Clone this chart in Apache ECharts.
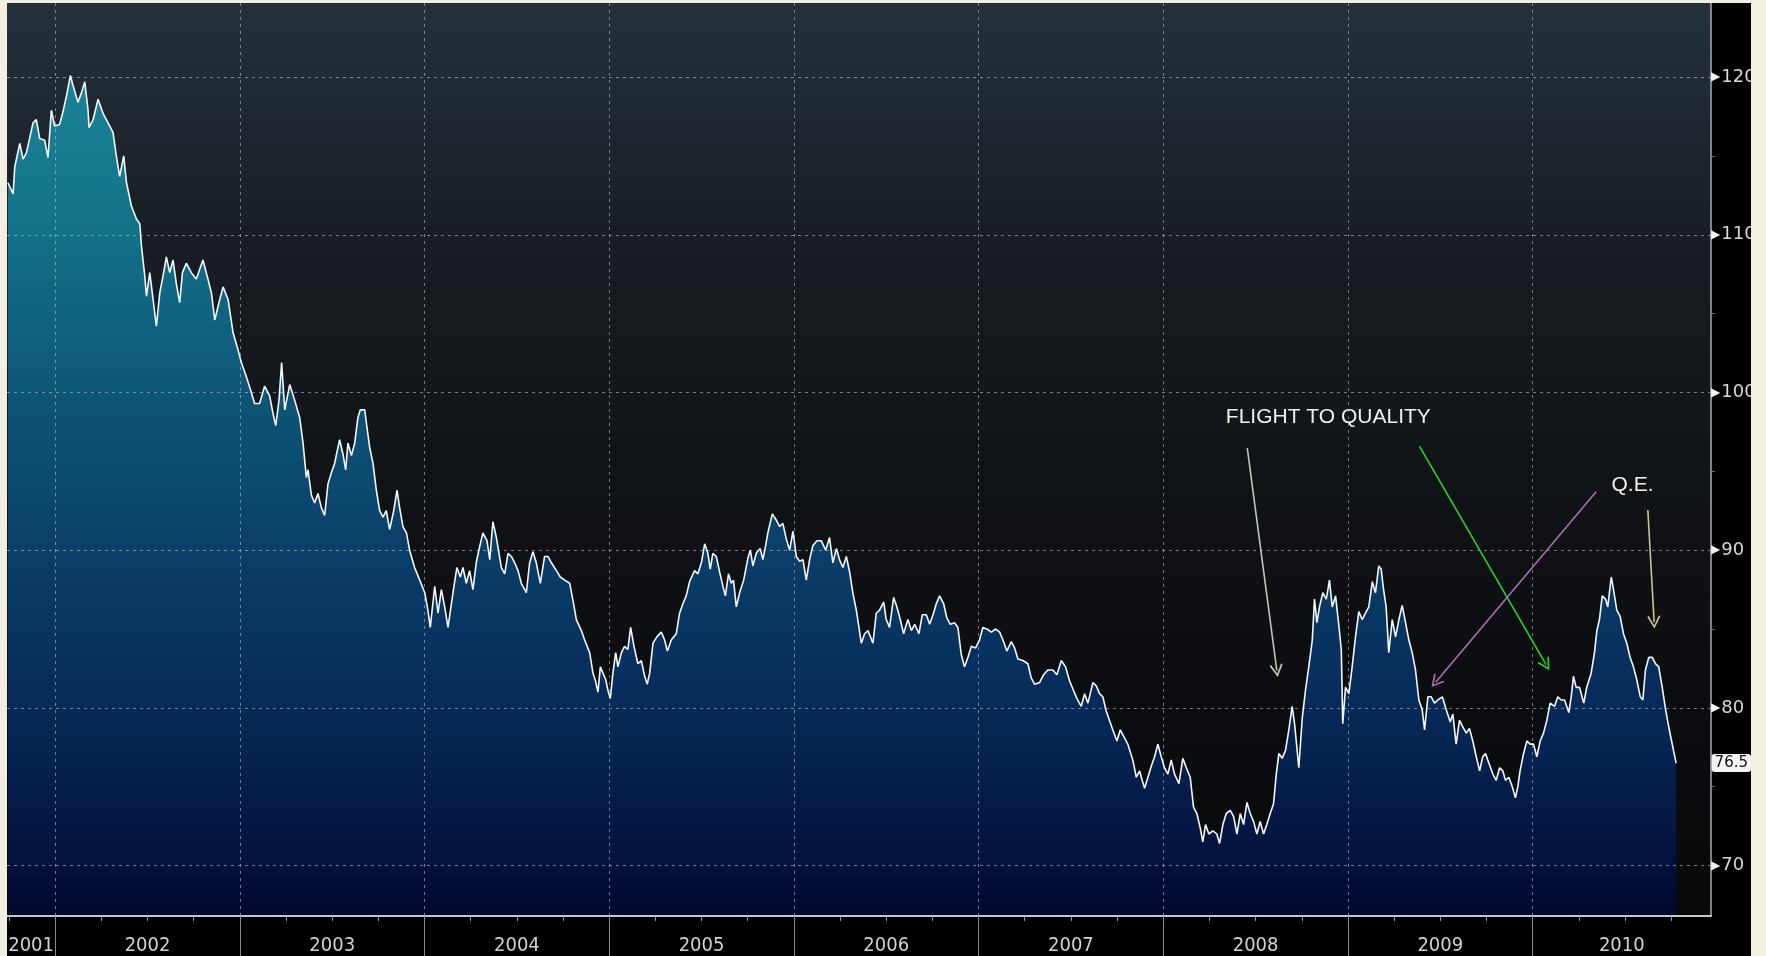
<!DOCTYPE html>
<html>
<head>
<meta charset="utf-8">
<title>US Dollar Index 2001 - 2010</title>
<script src="https://cdn.jsdelivr.net/npm/echarts@6.0.0/dist/echarts.min.js"></script>
<style>
    html, body { margin: 0; padding: 0; background: #f3efe0; }
    #chart { position: absolute; left: 7px; top: 3px; width: 1744px; height: 953px; background: #000; }
</style>
</head>
<body>
<div id="chart"></div>
<script>

// Dates as decimal years
var dateYears = [
    2001.744, 2001.772, 2001.781, 2001.808, 2001.826, 2001.844, 2001.880, 2001.898, 2001.916, 2001.943,
    2001.961, 2001.979, 2001.997, 2002.024, 2002.042, 2002.061, 2002.082, 2002.096, 2002.123, 2002.142,
    2002.160, 2002.178, 2002.183, 2002.205, 2002.232, 2002.259, 2002.286, 2002.313, 2002.331, 2002.349,
    2002.371, 2002.386, 2002.413, 2002.440, 2002.458, 2002.467, 2002.485, 2002.494, 2002.512, 2002.530,
    2002.548, 2002.566, 2002.584, 2002.602, 2002.620, 2002.638, 2002.656, 2002.674, 2002.689, 2002.710,
    2002.737, 2002.764, 2002.782, 2002.800, 2002.827, 2002.846, 2002.864, 2002.891, 2002.909, 2002.936,
    2002.963, 2002.990, 2003.008, 2003.035, 2003.062, 2003.080, 2003.107, 2003.134, 2003.161, 2003.179,
    2003.194, 2003.212, 2003.226, 2003.243,
    2003.270, 2003.297, 2003.324, 2003.342, 2003.360, 2003.369, 2003.387, 2003.405, 2003.423, 2003.441,
    2003.459, 2003.477, 2003.495, 2003.513, 2003.540, 2003.558, 2003.573, 2003.585, 2003.604, 2003.622,
    2003.639, 2003.652, 2003.676, 2003.688, 2003.703, 2003.721, 2003.739, 2003.757, 2003.775, 2003.793,
    2003.811, 2003.833, 2003.851, 2003.865, 2003.883, 2003.902, 2003.919, 2003.946, 2003.974, 2004.001,
    2004.018, 2004.031, 2004.055, 2004.073, 2004.091, 2004.109, 2004.127, 2004.154, 2004.175, 2004.194,
    2004.208, 2004.226, 2004.244, 2004.262, 2004.280, 2004.298, 2004.316, 2004.338, 2004.353, 2004.370,
    2004.389, 2004.416, 2004.434, 2004.452, 2004.470, 2004.488, 2004.506, 2004.524, 2004.551, 2004.569,
    2004.587, 2004.605, 2004.627, 2004.650, 2004.668, 2004.687, 2004.714, 2004.735, 2004.759, 2004.786,
    2004.804, 2004.822, 2004.849, 2004.867,
    2004.894, 2004.912, 2004.926, 2004.939, 2004.952, 2004.966, 2004.981, 2004.993, 2005.006, 2005.020,
    2005.035, 2005.047, 2005.066, 2005.083, 2005.101, 2005.116, 2005.134, 2005.155, 2005.174, 2005.192,
    2005.206, 2005.219, 2005.237, 2005.258, 2005.282, 2005.300, 2005.315, 2005.336, 2005.363, 2005.381,
    2005.399, 2005.417, 2005.435, 2005.462, 2005.480, 2005.499, 2005.517, 2005.534, 2005.547, 2005.561,
    2005.580, 2005.598, 2005.616, 2005.629, 2005.646, 2005.661, 2005.673, 2005.688, 2005.706, 2005.728,
    2005.751, 2005.764, 2005.778, 2005.796, 2005.818, 2005.832, 2005.847, 2005.859, 2005.883, 2005.905,
    2005.923, 2005.940, 2005.959, 2005.977, 2005.995, 2006.013, 2006.031, 2006.049, 2006.067, 2006.085,
    2006.103, 2006.125, 2006.148, 2006.172, 2006.193, 2006.211, 2006.230, 2006.247, 2006.265, 2006.284,
    2006.302, 2006.319, 2006.338, 2006.365, 2006.383, 2006.401,
    2006.428, 2006.446, 2006.464, 2006.486, 2006.500, 2006.518, 2006.540, 2006.558, 2006.576, 2006.594,
    2006.617, 2006.636, 2006.654, 2006.677, 2006.695, 2006.717, 2006.735, 2006.756, 2006.771, 2006.789,
    2006.811, 2006.828, 2006.847, 2006.870, 2006.888, 2006.906, 2006.924, 2006.942, 2006.961, 2006.984,
    2007.005, 2007.023, 2007.045, 2007.069, 2007.092, 2007.114, 2007.132, 2007.153, 2007.177, 2007.195,
    2007.213, 2007.240, 2007.267, 2007.285, 2007.303, 2007.330, 2007.352, 2007.375, 2007.402, 2007.424,
    2007.448, 2007.471, 2007.493, 2007.514, 2007.532, 2007.556, 2007.574, 2007.592, 2007.619, 2007.637,
    2007.655, 2007.673, 2007.691, 2007.709, 2007.727, 2007.749, 2007.767, 2007.790, 2007.808, 2007.835,
    2007.854, 2007.872, 2007.886, 2007.899, 2007.917, 2007.935, 2007.953, 2007.971, 2007.989,
    2008.007, 2008.025, 2008.043, 2008.061, 2008.085, 2008.106, 2008.125, 2008.146, 2008.164, 2008.182,
    2008.200, 2008.214, 2008.229, 2008.247, 2008.269, 2008.290, 2008.305, 2008.323, 2008.341, 2008.363,
    2008.381, 2008.399, 2008.417, 2008.435, 2008.453, 2008.471, 2008.489, 2008.507, 2008.525, 2008.543,
    2008.561, 2008.579, 2008.597, 2008.612, 2008.626, 2008.644, 2008.662, 2008.680, 2008.698, 2008.711,
    2008.734, 2008.753, 2008.770, 2008.788, 2008.807, 2008.819, 2008.832, 2008.846, 2008.864, 2008.883,
    2008.900, 2008.915, 2008.933, 2008.951, 2008.964, 2008.972, 2008.987, 2009.005, 2009.023, 2009.041,
    2009.059, 2009.077, 2009.095, 2009.113, 2009.132, 2009.149, 2009.167, 2009.180, 2009.193, 2009.207,
    2009.221, 2009.240, 2009.258, 2009.276, 2009.294, 2009.312, 2009.330, 2009.348, 2009.366, 2009.384,
    2009.402, 2009.415, 2009.433, 2009.451, 2009.469, 2009.487, 2009.511, 2009.532, 2009.554,
    2009.568, 2009.586, 2009.604, 2009.622, 2009.641, 2009.658, 2009.676, 2009.695, 2009.713, 2009.730,
    2009.745, 2009.763, 2009.785, 2009.803, 2009.821, 2009.839, 2009.853, 2009.871, 2009.890, 2009.907,
    2009.920, 2009.932, 2009.951, 2009.969, 2009.987, 2010.005, 2010.023, 2010.041, 2010.059, 2010.077,
    2010.095, 2010.119, 2010.136, 2010.155, 2010.173, 2010.196, 2010.209, 2010.221, 2010.236, 2010.254,
    2010.277, 2010.293, 2010.317, 2010.335, 2010.348, 2010.362, 2010.377, 2010.395, 2010.407, 2010.426,
    2010.438, 2010.456, 2010.474, 2010.492, 2010.510, 2010.528, 2010.546, 2010.564, 2010.583, 2010.597,
    2010.611, 2010.629, 2010.648, 2010.665, 2010.683, 2010.702, 2010.720, 2010.737, 2010.756, 2010.777
];

var dxyValues = [
    113.3, 112.6, 114.3, 115.8, 114.8, 115.2, 117.1, 117.3, 116.1, 116.0,
    114.9, 117.9, 116.9, 117.0, 117.8, 118.8, 120.1, 119.5, 118.4, 119.0,
    119.7, 117.9, 116.8, 117.3, 118.6, 117.7, 117.1, 116.5, 115.0, 113.7,
    115.0, 113.3, 111.8, 111.0, 110.7, 109.3, 107.4, 106.1, 107.6, 105.9,
    104.2, 106.3, 107.4, 108.6, 107.6, 108.4, 106.9, 105.7, 107.6, 108.2,
    107.6, 107.2, 107.8, 108.4, 107.2, 106.3, 104.6, 105.9, 106.7, 105.9,
    103.8, 102.7, 101.9, 101.0, 100.0, 99.3, 99.3, 100.4, 99.8, 98.7,
    97.9, 99.5, 101.9, 98.9,
    100.5, 99.5, 98.4, 96.8, 94.6, 95.1, 93.5, 93.0, 93.6, 92.7,
    92.2, 94.2, 94.9, 95.5, 97.0, 96.1, 95.1, 96.8, 96.0, 96.8,
    98.4, 98.9, 98.9, 97.8, 96.5, 95.5, 93.8, 92.5, 92.1, 92.5,
    91.3, 92.5, 93.8, 92.7, 91.5, 91.1, 90.0, 88.9, 88.1, 87.3,
    86.2, 85.1, 87.7, 86.0, 87.5, 86.4, 85.1, 87.3, 88.9, 88.3,
    88.9, 87.9, 88.7, 87.5, 89.2, 90.2, 91.1, 90.6, 89.4, 91.8,
    90.8, 88.9, 88.5, 89.8, 89.6, 89.2, 88.7, 87.9, 87.3, 89.2,
    89.9, 89.2, 87.9, 89.6, 89.6, 89.2, 88.7, 88.3, 88.1, 87.9,
    86.8, 85.6, 84.9, 84.3,
    83.5, 82.2, 81.7, 81.0, 82.6, 82.2, 81.8, 81.1, 80.6, 82.2,
    83.5, 82.6, 83.5, 83.9, 83.7, 85.1, 83.9, 82.8, 83.0, 82.0,
    81.5, 82.2, 84.1, 84.5, 84.8, 84.3, 83.6, 84.3, 84.7, 86.0,
    86.6, 87.1, 88.0, 88.7, 88.5, 89.2, 90.4, 89.8, 88.8, 89.8,
    89.6, 88.6, 87.7, 87.1, 88.5, 87.9, 88.1, 86.4, 87.3, 88.1,
    89.5, 90.0, 89.0, 89.8, 90.1, 89.4, 90.3, 91.1, 92.3, 91.9,
    91.5, 91.7, 90.7, 90.0, 91.2, 89.6, 89.3, 89.4, 88.1, 89.4,
    90.3, 90.6, 90.6, 90.0, 90.8, 89.2, 90.1, 89.4, 88.9, 89.6,
    88.6, 87.3, 86.2, 84.1, 84.7, 84.9,
    84.1, 86.0, 86.2, 86.7, 85.6, 85.1, 87.0, 86.4, 85.6, 84.7,
    85.6, 84.9, 85.3, 84.7, 85.9, 85.9, 85.3, 86.0, 86.6, 87.1,
    86.6, 85.7, 85.3, 85.4, 85.1, 83.4, 82.6, 83.2, 83.9, 83.8,
    84.3, 85.1, 85.0, 84.8, 85.0, 84.8, 84.3, 83.6, 84.2, 83.8,
    83.1, 83.0, 82.8, 81.9, 81.5, 81.6, 82.1, 82.4, 82.4, 82.1,
    83.0, 82.6, 81.7, 81.1, 80.6, 80.1, 80.9, 80.3, 81.6, 81.4,
    80.9, 80.7, 79.8, 79.2, 78.6, 77.9, 78.6, 78.1, 77.7, 76.7,
    75.6, 76.0, 75.4, 74.9, 75.6, 76.3, 76.9, 77.7, 76.9,
    76.2, 75.8, 76.7, 75.8, 75.2, 76.8, 76.2, 75.6, 73.7, 73.3,
    72.4, 71.5, 72.6, 72.0, 72.2, 72.0, 71.4, 72.6, 73.3, 73.5,
    73.1, 72.0, 73.3, 72.6, 74.0, 73.3, 72.8, 72.0, 72.8, 72.0,
    72.6, 73.3, 73.9, 75.8, 77.1, 76.8, 77.3, 78.6, 80.1, 79.0,
    76.2, 79.4, 81.1, 82.6, 84.3, 86.9, 85.4, 86.4, 87.3, 86.9,
    88.1, 86.4, 87.1, 85.2, 83.7, 79.0, 81.3, 80.9, 82.6, 84.5,
    86.1, 85.6, 86.0, 86.4, 88.0, 87.3, 89.0, 88.8, 87.5, 86.4,
    83.5, 85.6, 84.5, 85.6, 86.5, 85.4, 84.3, 83.5, 82.4, 80.5,
    79.9, 78.6, 80.7, 80.7, 80.3, 80.5, 80.7, 79.9, 79.1,
    79.6, 77.7, 79.2, 78.8, 78.4, 78.7, 77.9, 76.9, 76.0, 76.9,
    77.1, 76.5, 75.8, 75.4, 76.2, 76.0, 75.4, 75.6, 75.0, 74.3,
    75.0, 76.0, 77.1, 77.9, 77.7, 77.7, 76.9, 77.9, 78.4, 79.2,
    80.3, 80.1, 80.7, 80.5, 80.5, 79.7, 80.7, 82.0, 81.3, 81.3,
    80.3, 81.3, 82.2, 83.5, 84.9, 85.6, 87.1, 86.9, 86.4, 88.3,
    87.5, 86.2, 85.8, 84.7, 84.1, 83.2, 82.6, 81.8, 80.7, 80.5,
    82.4, 83.2, 83.2, 82.8, 82.6, 81.3, 79.9, 78.8, 77.7, 76.5
];

// Axis labels and ticks
var yearLabels = ['2001', '2002', '2003', '2004', '2005', '2006', '2007', '2008', '2009', '2010'];
var yearTicks = [2002, 2003, 2004, 2005, 2006, 2007, 2008, 2009, 2010];
var valueTicks = [70, 80, 90, 100, 110, 120];
var valueMinorTicks = [75, 85, 95, 105, 115];
var lastValue = 76.5;

// Annotations (in data coordinates)
var noteTexts = ['FLIGHT TO QUALITY', 'Q.E.'];
var notePositions = [[2008.339, 98.43], [2010.427, 94.1]];
var arrowStarts = [[2008.455, 96.47], [2009.388, 96.58], [2010.344, 93.71], [2010.624, 92.55]];
var arrowEnds = [[2008.615, 82.37], [2010.073, 82.74], [2009.475, 81.63], [2010.658, 85.44]];
var arrowColors = ['#bccab0', '#2bd12b', '#b06cb6', '#cdc394'];

// Visible window of the chart
var axisStart = 2001.739;
var axisEnd = 2010.966;
var valueMin = 66.8;
var valueMax = 124.7;

var labelFont = "'Liberation Sans Narrow', 'DejaVu Sans Condensed', 'Liberation Sans', sans-serif";
var chevron = 'path://M5,0 L10,9 L9,10 L5,2.6 L1,10 L0,9 Z';


function BuildPoints(_dates, _values) {
    var points = [];
    for (var i = 0; i < _dates.length; i++) {
        points.push([_dates[i], _values[i]]);
    }
    return points;
}


function CreateDollarChart(_elementID) {

    var myChart = echarts.init(document.getElementById(_elementID), null, { renderer: 'canvas' });
    var points = BuildPoints(dateYears, dxyValues);

    // Year label sits in the middle of the visible part of its year
    var labelValues = [];
    for (var i = 0; i < yearLabels.length; i++) {
        var y0 = Math.max(+yearLabels[i], axisStart);
        var y1 = Math.min(+yearLabels[i] + 1, axisEnd);
        labelValues.push((y0 + y1) / 2);
    }

    // Small quarter ticks under the axis
    var quarterTicks = [];
    for (var y = 2001; y <= 2010; y++) {
        for (var q = 1; q < 4; q++) {
            var t = y + q / 4;
            if (t > axisStart && t < axisEnd) quarterTicks.push(t);
        }
    }

    var arrows = [];
    for (var a = 0; a < arrowStarts.length; a++) {
        arrows.push([
            { coord: arrowStarts[a], lineStyle: { color: arrowColors[a], width: 1.6, type: 'solid' } },
            { coord: arrowEnds[a] }
        ]);
    }

    var notes = [];
    for (var n = 0; n < noteTexts.length; n++) {
        notes.push({ name: noteTexts[n], coord: notePositions[n] });
    }

    var gridLine = { color: 'rgba(185, 192, 198, 0.6)', width: 1, type: [3, 4] };

    var option = {
        animation: false,
        backgroundColor: '#000',
        grid: {
            left: 0, right: 40, top: 0, bottom: 40,
            // labels are allowed to run off the canvas, as in the original
            outerBoundsMode: 'none',
            show: true,
            borderWidth: 0,
            backgroundColor: {
                type: 'linear', x: 0, y: 0, x2: 0, y2: 1,
                colorStops: [
                    { offset: 0, color: '#24313b' },
                    { offset: 0.25, color: '#181e24' },
                    { offset: 0.5, color: '#111417' },
                    { offset: 0.75, color: '#0c0d10' },
                    { offset: 1, color: '#08090b' }
                ]
            }
        },
        xAxis: [
            {
                type: 'value',
                min: axisStart,
                max: axisEnd,
                z: 3,
                axisLine: { show: true, onZero: false, lineStyle: { color: '#c4c8cb', width: 2 } },
                axisTick: { show: true, customValues: yearTicks, length: 40, lineStyle: { color: '#8a8a8a', width: 1 } },
                axisLabel: {
                    customValues: labelValues,
                    margin: 20,
                    color: '#d2d2d2',
                    fontSize: 20,
                    fontFamily: labelFont,
                    formatter: function (value) { return String(Math.floor(value)); }
                },
                splitLine: { show: true, lineStyle: gridLine }
            },
            {
                type: 'value',
                position: 'bottom',
                min: axisStart,
                max: axisEnd,
                z: 3,
                axisLine: { show: false, onZero: false },
                axisTick: { show: true, customValues: quarterTicks, length: 5, lineStyle: { color: '#9a9a9a' } },
                axisLabel: { show: false },
                splitLine: { show: false }
            }
        ],
        yAxis: [
            {
                type: 'value',
                position: 'right',
                min: valueMin,
                max: valueMax,
                z: 3,
                axisLine: { show: true, lineStyle: { color: '#a8adb1', width: 1.5 } },
                axisTick: { show: true, customValues: valueTicks, length: 3, lineStyle: { color: '#e8e8e8', width: 1.5 } },
                axisLabel: {
                    customValues: valueTicks,
                    margin: 0,
                    formatter: function (value) { return '{t|\u25B6}{v|' + value + '}'; },
                    rich: {
                        t: { fontSize: 12, color: '#f2f2f2', fontFamily: 'DejaVu Sans', padding: [0, 1, 0, 0] },
                        v: { fontSize: 18, color: '#d8d8d8', fontFamily: "'DejaVu Sans', sans-serif" }
                    }
                },
                splitLine: { show: true, lineStyle: gridLine },
                axisPointer: {
                    show: true,
                    type: 'line',
                    value: lastValue,
                    status: 'show',
                    triggerTooltip: false,
                    lineStyle: { opacity: 0 },
                    label: {
                        show: true,
                        margin: 10,
                        backgroundColor: '#f4f4f4',
                        color: '#111',
                        padding: [2, 3, 1, 3],
                        fontSize: 15,
                        fontFamily: "'DejaVu Sans', sans-serif",
                        formatter: function (params) { return String(lastValue); }
                    }
                }
            },
            {
                type: 'value',
                position: 'right',
                min: valueMin,
                max: valueMax,
                z: 3,
                axisLine: { show: false },
                axisTick: { show: true, customValues: valueMinorTicks, length: 4, lineStyle: { color: '#6a6a6a' } },
                axisLabel: { show: false },
                splitLine: { show: false }
            }
        ],
        series: [
            {
                name: 'area',
                type: 'line',
                data: points,
                symbol: 'none',
                z: 2,
                silent: true,
                lineStyle: { width: 0 },
                areaStyle: {
                    origin: 'start',
                    opacity: 1,
                    color: {
                        type: 'linear', x: 0, y: 0, x2: 0, y2: 953, global: true,
                        colorStops: [
                            { offset: 0.076, color: '#1a8497' },
                            { offset: 0.238, color: '#13718a' },
                            { offset: 0.417, color: '#0d5577' },
                            { offset: 0.574, color: '#0a3f6a' },
                            { offset: 0.731, color: '#072b5a' },
                            { offset: 0.889, color: '#041340' },
                            { offset: 0.958, color: '#02082e' }
                        ]
                    }
                }
            },
            {
                name: 'DXY',
                type: 'line',
                data: points,
                symbol: 'none',
                z: 4,
                silent: true,
                lineStyle: { color: '#f2f7fa', width: 1.6 },
                markLine: {
                    silent: true,
                    symbol: ['none', chevron],
                    symbolSize: 13,
                    label: { show: false },
                    emphasis: { disabled: true },
                    data: arrows
                },
                markPoint: {
                    silent: true,
                    symbol: 'circle',
                    symbolSize: 1,
                    itemStyle: { color: 'transparent' },
                    label: {
                        show: true,
                        position: 'inside',
                        align: 'left',
                        verticalAlign: 'middle',
                        color: '#f0f0e6',
                        fontSize: 21,
                        fontFamily: "'Liberation Sans', sans-serif",
                        formatter: '{b}'
                    },
                    data: notes
                }
            }
        ]
    };

    myChart.setOption(option);
    return myChart;
}

CreateDollarChart('chart');

</script>
</body>
</html>
